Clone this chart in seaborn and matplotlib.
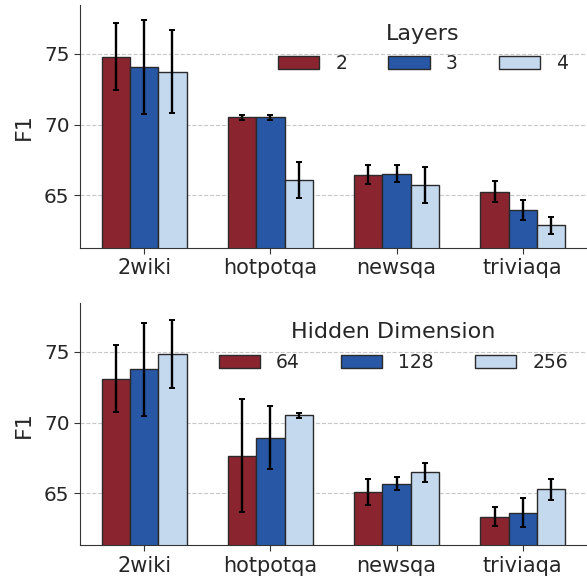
import numpy as np
import pandas as pd
import matplotlib
matplotlib.use("Agg")
import matplotlib.pyplot as plt
import seaborn as sns

datasets = ["2wiki", "hotpotqa", "newsqa", "triviaqa"]

# Layers
layer_levels = ["2", "3", "4"]
layer_f1 = {
    "2": [74.81, 70.52, 66.46, 65.26],
    "3": [74.08, 70.52, 66.53, 63.97],
    "4": [73.75, 66.09, 65.73, 62.88],
}
layer_err = {
    "2": [2.37, 0.18, 0.66, 0.73],
    "3": [3.32, 0.18, 0.59, 0.70],
    "4": [2.93, 1.28, 1.30, 0.59],
}

# Hidden dimension
hidden_levels = ["64", "128", "256"]
hidden_f1 = {
    "64": [73.11, 67.66, 65.07, 63.34],
    "128": [73.77, 68.92, 65.66, 63.62],
    "256": [74.86, 70.50, 66.46, 65.28],
}
hidden_err = {
    "64": [2.39, 4.00, 0.94, 0.70],
    "128": [3.28, 2.24, 0.47, 1.02],
    "256": [2.38, 0.15, 0.66, 0.74],
}

palette = ["#8A2530", "#2757A5", "#C4D8EE"]


def tabela(f1, err, niveis, nome):
    linhas = []
    for nivel in niveis:
        for i, ds in enumerate(datasets):
            linhas.append({"dataset": ds, nome: nivel, "F1": f1[nivel][i], "err": err[nivel][i]})
    return pd.DataFrame(linhas)


def painel(ax, df, nome, niveis):
    sns.barplot(data=df, x="dataset", y="F1", hue=nome, hue_order=niveis,
                order=datasets, palette=palette, saturation=1, width=0.67,
                errorbar=None, edgecolor="#2a2a2a", linewidth=1.0, ax=ax, zorder=2)
    # barras de erro no centro de cada barra
    for k, nivel in enumerate(niveis):
        cont = ax.containers[k]
        xs = [p.get_x() + p.get_width() / 2 for p in cont.patches]
        sub = df[df[nome] == nivel].set_index("dataset").loc[datasets]
        ax.errorbar(xs, sub["F1"].values, yerr=sub["err"].values, fmt="none",
                    ecolor="black", elinewidth=1.7, capsize=2.2, capthick=1.4, zorder=3)
    ax.set_ylim(61.3, 78.45)
    ax.set_yticks([65, 70, 75])
    ax.set_xlim(-0.51, 3.51)
    ax.set_xlabel("")
    ax.set_ylabel("F1", fontsize=16, labelpad=7)
    ax.tick_params(axis="x", labelsize=15, bottom=True, length=4, color="#333333")
    ax.tick_params(axis="y", labelsize=14.5, left=True, length=4, color="#333333")
    ax.yaxis.grid(True, linestyle="--", color="#c8c8c8", linewidth=0.8, zorder=0)
    ax.set_axisbelow(True)
    for s in ["top", "right"]:
        ax.spines[s].set_visible(False)
    for s in ["left", "bottom"]:
        ax.spines[s].set_color("#333333")
    handles, labels = ax.get_legend_handles_labels()
    ax.legend(handles=handles, labels=labels, title=nome, ncol=3, frameon=False,
              loc="upper right", fontsize=13.5, title_fontsize=16,
              handlelength=2.2, handletextpad=0.85, columnspacing=2.2,
              labelspacing=0.55, borderaxespad=0.62)


sns.set_style("white")
fig = plt.figure(figsize=(5.87, 5.76), dpi=100)
ax1 = fig.add_axes([0.1363, 0.570, 0.8637, 0.4213])
ax2 = fig.add_axes([0.1363, 0.0533, 0.8637, 0.4201])

painel(ax1, tabela(layer_f1, layer_err, layer_levels, "Layers"), "Layers", layer_levels)
painel(ax2, tabela(hidden_f1, hidden_err, hidden_levels, "Hidden Dimension"), "Hidden Dimension", hidden_levels)

fig.savefig("out.png", dpi=100)
